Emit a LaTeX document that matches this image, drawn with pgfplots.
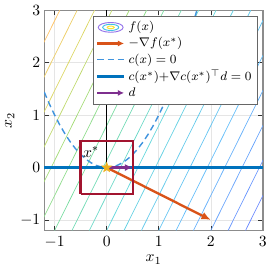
\documentclass[border=0pt]{standalone}
\usepackage{pgfplots}
\pgfplotsset{compat=1.18}
\usetikzlibrary{arrows.meta}
\definecolor{mblue}{rgb}{0,0.447,0.741}
\definecolor{dblue}{rgb}{0.25,0.58,0.87}
\definecolor{morange}{rgb}{0.85,0.325,0.098}
\definecolor{mpurple}{rgb}{0.494,0.184,0.556}
\definecolor{mred}{rgb}{0.635,0.078,0.184}
\definecolor{myellow}{rgb}{0.929,0.694,0.125}
\definecolor{ell1}{rgb}{0.58,0.45,0.92}
\definecolor{ell2}{rgb}{0.25,0.75,0.9}
\definecolor{ell3}{rgb}{0.98,0.9,0.2}
\pgfdeclareplotmark{pstar}{%
  \pgfpathmoveto{\pgfpointpolar{90}{\pgfplotmarksize}}%
  \pgfpathlineto{\pgfpointpolar{126}{0.42\pgfplotmarksize}}%
  \pgfpathlineto{\pgfpointpolar{162}{\pgfplotmarksize}}%
  \pgfpathlineto{\pgfpointpolar{198}{0.42\pgfplotmarksize}}%
  \pgfpathlineto{\pgfpointpolar{234}{\pgfplotmarksize}}%
  \pgfpathlineto{\pgfpointpolar{270}{0.42\pgfplotmarksize}}%
  \pgfpathlineto{\pgfpointpolar{306}{\pgfplotmarksize}}%
  \pgfpathlineto{\pgfpointpolar{342}{0.42\pgfplotmarksize}}%
  \pgfpathlineto{\pgfpointpolar{18}{\pgfplotmarksize}}%
  \pgfpathlineto{\pgfpointpolar{54}{0.42\pgfplotmarksize}}%
  \pgfpathclose\pgfusepathqfillstroke}
\pgfplotsset{
  colormap={contours}{rgb255(0cm)=(110,140,255); rgb255(4cm)=(100,190,250); rgb255(8cm)=(100,215,220); rgb255(11cm)=(120,220,160); rgb255(13cm)=(165,220,120); rgb255(15cm)=(220,215,100); rgb255(17cm)=(255,195,100)},
  cline/.style={line width=0.45pt, color of colormap={#1 of contours}, forget plot},
  arrowleg/.style={legend image code/.code={\draw[##1, -{Latex[length=4pt,width=4pt]}] (0cm,0cm) -- (0.6cm,0cm);}},
}
\begin{document}
\begin{tikzpicture}
\begin{axis}[
  scale only axis,
  width=140pt, height=141pt,
  xmin=-1.2, xmax=3, ymin=-1.2, ymax=3,
  xtick={-1,0,1,2,3}, ytick={-1,0,1,2,3},
  xlabel={$x_1$}, ylabel={$x_2$},
  xlabel style={yshift=2pt}, ylabel style={yshift=-3pt},
  yticklabel style={xshift=1pt},
  grid=major, major grid style={black!10},
  axis line style={black!45, line width=0.8pt},
  tick align=inside, major tick length=3pt,
  tick style={black!80, thin},
  clip=true,
  legend style={at={(0.975,0.975)}, anchor=north east, draw=black!60, font=\footnotesize, inner sep=1.5pt, row sep=-1.2pt, cells={anchor=west}, fill=white},
  legend cell align=left,
]
% contour lines of f(x) = x2 - 2 x1 (levels c = -1.2 + 2k/3), endpoints at x2=-1.2 and x2=3
\addplot[line width=0.45pt, color of colormap={1000 of contours},
  legend image code/.code={
    \draw[ell1, line width=0.6pt] (0.3cm,0cm) ellipse (0.28cm and 0.11cm);
    \draw[ell2, line width=0.6pt] (0.3cm,0cm) ellipse (0.18cm and 0.07cm);
    \draw[ell3, line width=0.6pt] (0.3cm,0cm) ellipse (0.08cm and 0.03cm);}]
  coordinates {(-3,-1.2) (-0.9,3)};
\addlegendentry{$f(x)$}
\addplot[cline=941.2] coordinates {(-2.667,-1.2) (-0.567,3)};
\addplot[cline=882.4] coordinates {(-2.333,-1.2) (-0.233,3)};
\addplot[cline=823.5] coordinates {(-2,-1.2) (0.1,3)};
\addplot[cline=764.7] coordinates {(-1.667,-1.2) (0.433,3)};
\addplot[cline=705.9] coordinates {(-1.333,-1.2) (0.767,3)};
\addplot[cline=647.1] coordinates {(-1,-1.2) (1.1,3)};
\addplot[cline=588.2] coordinates {(-0.667,-1.2) (1.433,3)};
\addplot[cline=529.4] coordinates {(-0.333,-1.2) (1.767,3)};
\addplot[cline=470.6] coordinates {(0,-1.2) (2.1,3)};
\addplot[cline=411.8] coordinates {(0.333,-1.2) (2.433,3)};
\addplot[cline=352.9] coordinates {(0.667,-1.2) (2.767,3)};
\addplot[cline=294.1] coordinates {(1,-1.2) (3.1,3)};
\addplot[cline=235.3] coordinates {(1.333,-1.2) (3.433,3)};
\addplot[cline=176.5] coordinates {(1.667,-1.2) (3.767,3)};
\addplot[cline=117.6] coordinates {(2,-1.2) (4.1,3)};
\addplot[cline=58.8] coordinates {(2.333,-1.2) (4.433,3)};
\addplot[cline=0] coordinates {(2.667,-1.2) (4.767,3)};
% black vertical line
\addplot[black, line width=1pt, forget plot] coordinates {(0,0) (0,3)};
% -grad f
\addplot[morange, line width=1.5pt, -{Latex[length=6pt,width=5pt]}, arrowleg] coordinates {(0,0) (2,-1)};
\addlegendentry{$-\nabla f(x^*)$}
% c(x)=0
\addplot[dblue, line width=0.9pt, dash pattern=on 4pt off 2.5pt] coordinates {
(-1.2,1.44) (-1.1,1.21) (-1,1) (-0.9,0.81) (-0.8,0.64) (-0.7,0.49) (-0.6,0.36) (-0.5,0.25) (-0.4,0.16) (-0.3,0.09) (-0.2,0.04) (-0.1,0.01) (0,0)
(0.1,0.01) (0.2,0.04) (0.3,0.09) (0.4,0.16) (0.5,0.25) (0.6,0.36) (0.7,0.49) (0.8,0.64) (0.9,0.81) (1,1) (1.1,1.21) (1.2,1.44) (1.3,1.69) (1.4,1.96) (1.5,2.25) (1.6,2.56) (1.7,2.89) (1.75,3.0625)};
\addlegendentry{$c(x)=0$}
% linearization
\addplot[mblue, line width=1.9pt] coordinates {(-1.2,0) (3,0)};
\addlegendentry{$c(x^*){+}\nabla c(x^*)^{\top} d=0$}
% d
\addplot[mpurple, line width=1.5pt, -{Latex[length=5pt,width=4.5pt]}, arrowleg] coordinates {(0,0) (0.5,0)};
\addlegendentry{$d$}
% trust region
\addplot[mred, line width=1.5pt, forget plot] coordinates {(-0.5,-0.5) (0.5,-0.5) (0.5,0.5) (-0.5,0.5) (-0.5,-0.5)};
% x*
\addplot[only marks, mark=pstar, mark size=3.2pt, mark options={fill=myellow, draw=myellow}, forget plot] coordinates {(0,0)};
\node at (axis cs:-0.3,0.3) {$x^*$};
\end{axis}
\end{tikzpicture}
\end{document}
